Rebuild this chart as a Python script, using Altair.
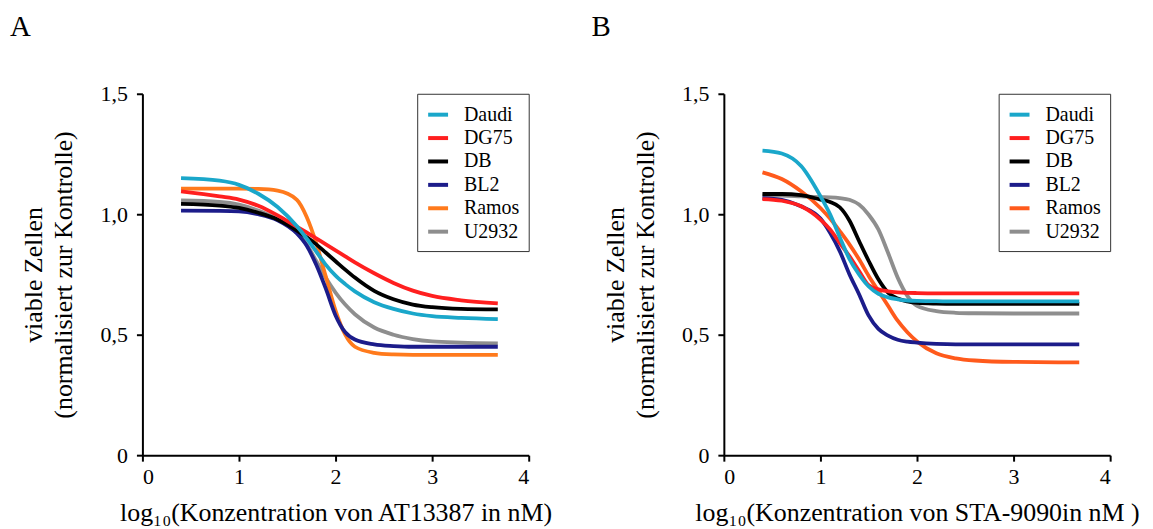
import altair as alt
import pandas as pd

cell_lines = ["Daudi", "DG75", "DB", "BL2", "Ramos", "U2932"]
draw_order = ["U2932", "Ramos", "BL2", "DB", "DG75", "Daudi"]

colors_A = ["#1AA7CA", "#FF1F1F", "#000000", "#1C1C8A", "#FF7A1C", "#8E8E8E"]
colors_B = ["#1AA7CA", "#FF1F1F", "#000000", "#1C1C8A", "#FF5A1C", "#8E8E8E"]

x_ticks = [0, 1, 2, 3, 4]
y_ticks = [0, 0.5, 1.0, 1.5]

# Panel A: AT13387
x_A = [0.4, 0.8, 1.0, 1.2, 1.4, 1.6, 1.7, 1.8, 1.9, 2.0, 2.1, 2.2, 2.4, 2.6, 2.8, 3.0, 3.3, 3.68]
A_Daudi = [1.150, 1.139, 1.122, 1.085, 1.030, 0.950, 0.900, 0.845, 0.790, 0.745, 0.710, 0.680, 0.635, 0.607, 0.588, 0.577, 0.570, 0.565]
A_DG75 = [1.095, 1.074, 1.061, 1.035, 0.995, 0.948, 0.925, 0.900, 0.875, 0.850, 0.825, 0.800, 0.755, 0.715, 0.683, 0.661, 0.643, 0.630]
A_DB = [1.043, 1.036, 1.026, 1.006, 0.978, 0.932, 0.905, 0.875, 0.840, 0.805, 0.770, 0.737, 0.682, 0.647, 0.625, 0.614, 0.607, 0.605]
A_BL2 = [1.015, 1.014, 1.012, 1.000, 0.975, 0.920, 0.870, 0.790, 0.690, 0.580, 0.510, 0.480, 0.460, 0.453, 0.450, 0.450, 0.450, 0.450]
A_Ramos = [1.106, 1.106, 1.106, 1.105, 1.098, 1.060, 0.990, 0.880, 0.740, 0.600, 0.500, 0.450, 0.425, 0.418, 0.416, 0.416, 0.416, 0.416]
A_U2932 = [1.057, 1.051, 1.040, 1.015, 0.978, 0.923, 0.875, 0.806, 0.735, 0.675, 0.625, 0.585, 0.530, 0.500, 0.482, 0.472, 0.467, 0.464]

# Panel B: STA-9090
x_B = [0.4, 0.6, 0.8, 1.0, 1.1, 1.2, 1.3, 1.4, 1.5, 1.6, 1.7, 1.8, 1.9, 2.0, 2.2, 2.4, 2.6, 3.0, 3.68]
B_Daudi = [1.264, 1.252, 1.200, 1.075, 1.000, 0.905, 0.815, 0.750, 0.700, 0.670, 0.655, 0.647, 0.642, 0.640, 0.639, 0.638, 0.638, 0.638, 0.638]
B_DG75 = [1.063, 1.056, 1.033, 0.978, 0.937, 0.881, 0.826, 0.764, 0.705, 0.688, 0.680, 0.676, 0.674, 0.673, 0.672, 0.672, 0.672, 0.672, 0.672]
B_DB = [1.084, 1.084, 1.079, 1.061, 1.051, 1.029, 0.974, 0.889, 0.806, 0.730, 0.675, 0.650, 0.638, 0.632, 0.629, 0.628, 0.628, 0.628, 0.628]
B_BL2 = [1.067, 1.060, 1.033, 0.982, 0.923, 0.847, 0.751, 0.668, 0.579, 0.524, 0.496, 0.479, 0.471, 0.467, 0.462, 0.460, 0.460, 0.460, 0.460]
B_Ramos = [1.174, 1.146, 1.095, 1.026, 0.982, 0.930, 0.875, 0.813, 0.744, 0.682, 0.620, 0.558, 0.510, 0.472, 0.423, 0.402, 0.393, 0.387, 0.385]
B_U2932 = [1.078, 1.077, 1.074, 1.071, 1.070, 1.067, 1.060, 1.040, 0.998, 0.937, 0.840, 0.737, 0.661, 0.620, 0.598, 0.591, 0.589, 0.588, 0.588]

series_A = {"Daudi": A_Daudi, "DG75": A_DG75, "DB": A_DB, "BL2": A_BL2, "Ramos": A_Ramos, "U2932": A_U2932}
series_B = {"Daudi": B_Daudi, "DG75": B_DG75, "DB": B_DB, "BL2": B_BL2, "Ramos": B_Ramos, "U2932": B_U2932}

FONT = "Liberation Serif, Times New Roman, serif"
W, H = 388, 363


def panel(x_vals, series, colors, xtitle, letter):
    rows = []
    for name in draw_order:
        for xv, yv in zip(x_vals, series[name]):
            rows.append({"x": xv, "y": yv, "Zelllinie": name})
    df = pd.DataFrame(rows)
    lines = alt.Chart(df).mark_line(interpolate="monotone", strokeWidth=3.8).encode(
        x=alt.X("x:Q", scale=alt.Scale(domain=[0, 4], nice=False, zero=False),
                axis=alt.Axis(values=x_ticks, format="d", title=xtitle,
                              labelPadding=5, titleY=66, titleBaseline="alphabetic")),
        y=alt.Y("y:Q", scale=alt.Scale(domain=[0, 1.5], nice=False),
                axis=alt.Axis(values=y_ticks, title=["viable Zellen", "(normalisiert zur Kontrolle)"],
                              labelExpr="datum.value == 0 ? '0' : replace(format(datum.value, '.1f'), '.', ',')",
                              labelPadding=9, titleX=-101, titleY=H / 2, titleAngle=270,
                              titleAlign="center", titleBaseline="alphabetic", titleLineHeight=30)),
        color=alt.Color("Zelllinie:N", scale=alt.Scale(domain=cell_lines, range=colors),
                        legend=alt.Legend(orient="top-right", offset=0, title=None,
                                          symbolType="stroke", symbolSize=400, symbolStrokeWidth=4,
                                          labelFont=FONT, labelFontSize=20, labelColor="black",
                                          labelOffset=14, padding=9, rowPadding=1.5,
                                          strokeColor="#333333", fillColor="white")),
        detail="Zelllinie:N",
    )
    lab = alt.Chart(pd.DataFrame({"t": [letter]})).mark_text(
        font=FONT, fontSize=29, align="left", baseline="alphabetic", color="black"
    ).encode(text="t:N", x=alt.value(-133), y=alt.value(-58))
    return alt.layer(lines, lab).properties(width=W, height=H)


pA = panel(x_A, series_A, colors_A, "log₁₀(Konzentration von AT13387 in nM)", "A")
pB = panel(x_B, series_B, colors_B, "log₁₀(Konzentration von STA-9090in nM )", "B")

chart = alt.hconcat(pA, pB, spacing=196, bounds="flush").resolve_scale(
    color="independent"
).properties(
    padding={"left": 2, "top": 4, "right": 5, "bottom": 2}
).configure_view(stroke=None).configure_axis(
    grid=False, domainColor="black", domainWidth=2, tickColor="black", tickWidth=2, tickSize=6,
    labelFont=FONT, labelFontSize=22, labelColor="black",
    titleFont=FONT, titleFontSize=26, titleFontWeight="normal", titleColor="black",
)

chart.save("out.html", embed_options={"renderer": "svg", "actions": False})
